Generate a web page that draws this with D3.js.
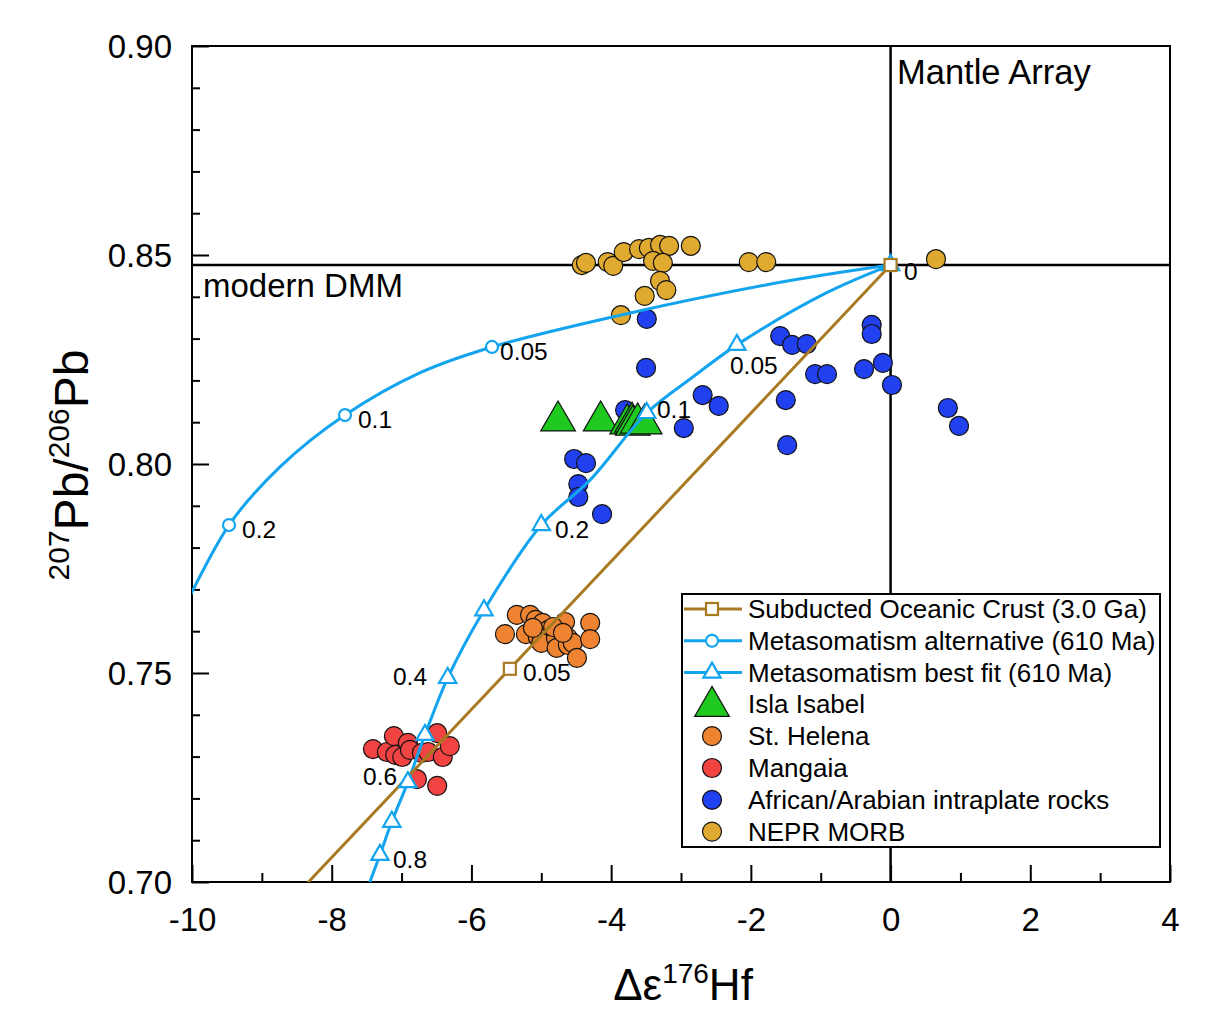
<!DOCTYPE html>
<html><head><meta charset="utf-8">
<script src="https://cdn.jsdelivr.net/npm/d3@7/dist/d3.min.js"></script>
<style>body{margin:0;background:#fff}svg{display:block;font-family:"Liberation Sans",Arial,sans-serif}</style>
</head><body><svg id="c" width="1212" height="1009"></svg>
<script>
// ---------- data ----------
const xTicksMajor = [-10,-8,-6,-4,-2,0,2,4];
const xTickLabels = ["-10","-8","-6","-4","-2","0","2","4"];
const xTicksMinor = [-9,-7,-5,-3,-1,1,3];
const yTicksMajor = [0.70,0.75,0.80,0.85,0.90];
const yTickLabels = ["0.70","0.75","0.80","0.85","0.90"];
const dmmY = 0.8476;

// Subducted oceanic crust (3.0 Ga): [x, y]
const crustLine = [[0,0.8476],[-5.45,0.751],[-8.7,0.6935]];
const crustMarks = [[0,0.8476],[-5.45,0.751]];
// Metasomatism alternative (610 Ma)
const altLine = [[0,0.8476],[-1.5,0.8437],[-3.87,0.8356],[-5.706,0.828],[-6.74,0.8218],[-7.81,0.8117],[-8.74,0.7993],[-9.47,0.7854],[-10.2,0.7625]];
const altMarks = [[0,0.8476],[-5.706,0.828],[-7.81,0.8117],[-9.47,0.7854]];
// Metasomatism best fit (610 Ma)
const bestLine = [[0,0.8476],[-0.90,0.8411],[-2.20,0.8285],[-2.83,0.8208],[-3.49,0.8122],[-4.30,0.7962],[-5.0,0.7854],[-5.82,0.765],[-6.34,0.7488],[-6.665,0.7352],[-6.91,0.7239],[-7.14,0.7144],[-7.31,0.7065],[-7.52,0.697]];
const bestMarks = [[0,0.8476],[-2.20,0.8285],[-3.49,0.8122],[-5.0,0.7854],[-5.82,0.765],[-6.34,0.7488],[-6.665,0.7352],[-6.91,0.7239],[-7.14,0.7144],[-7.31,0.7065]];

const curveLabels = [
  ["0.05",-5.591,0.8249],["0.1",-7.624,0.8086],["0.2",-9.284,0.7823],
  ["0.05",-2.299,0.8215],["0.1",-3.344,0.8110],["0.2",-4.804,0.7823],
  ["0.4",-7.123,0.7471],["0.6",-7.552,0.7232],["0.8",-7.123,0.7033],
  ["0.05",-5.262,0.7481],["0",0.192,0.8440]
];

const islaIsabel = [[-4.76,0.8103],[-4.15,0.8103],[-3.77,0.8096],[-3.70,0.8100],[-3.69,0.8093],[-3.62,0.8098],[-3.52,0.8096]];
const stHelena = [[-5.52,0.7593],[-5.35,0.7639],[-5.22,0.7593],[-5.16,0.7639],[-5.08,0.7627],[-5.05,0.7610],[-4.98,0.7620],[-4.90,0.7603],[-5.05,0.7586],[-5.00,0.7572],[-4.79,0.7584],[-4.78,0.7560],[-4.66,0.7622],[-4.62,0.7584],[-4.62,0.7567],[-4.55,0.7572],[-4.49,0.7536],[-4.30,0.7620],[-4.30,0.7581],[-4.83,0.7610],[-5.12,0.7608],[-4.69,0.7596]];
const mangaia = [[-7.41,0.7318],[-7.21,0.7311],[-7.11,0.7349],[-7.09,0.7304],[-6.99,0.7299],[-6.91,0.7333],[-6.88,0.7316],[-6.78,0.7246],[-6.71,0.7309],[-6.62,0.7311],[-6.49,0.7356],[-6.41,0.7299],[-6.31,0.7325],[-6.49,0.7230]];
const african = [[-3.49,0.8347],[-3.50,0.8230],[-2.69,0.8165],[-2.46,0.8139],[-2.96,0.8086],[-1.58,0.8306],[-1.41,0.8285],[-1.20,0.8287],[-1.08,0.8215],[-0.91,0.8215],[-1.50,0.8153],[-1.48,0.8045],[-0.27,0.8333],[-0.27,0.8311],[-0.38,0.8227],[-0.11,0.8242],[0.02,0.8189],[0.82,0.8134],[0.98,0.8091],[-3.80,0.8129],[-4.53,0.8012],[-4.36,0.8002],[-4.47,0.7952],[-4.47,0.7921],[-4.13,0.7880]];
const nepr = [[-4.42,0.8476],[-4.36,0.8481],[-4.05,0.8483],[-3.97,0.8474],[-3.82,0.8507],[-3.60,0.8514],[-3.46,0.8517],[-3.30,0.8524],[-3.17,0.8522],[-2.86,0.8522],[-3.40,0.8486],[-3.26,0.8481],[-3.30,0.8438],[-3.21,0.8416],[-3.52,0.8402],[-3.86,0.8356],[-2.03,0.8483],[-1.78,0.8483],[0.65,0.8490]];

const legendItems = ["Subducted Oceanic Crust (3.0 Ga)","Metasomatism alternative (610 Ma)","Metasomatism best fit (610 Ma)","Isla Isabel","St. Helena","Mangaia","African/Arabian intraplate rocks","NEPR MORB"];

// ---------- styles ----------
const C = {brown:"#a87b22", cyan:"#12a4ee", green:"#1fc91f", orange:"#ee8431", red:"#f24343", blue:"#2140f0", gold:"#e0a92f"};
const L = 192, R = 1170, T = 46, B = 882;

const svg = d3.select("#c");
const x = d3.scaleLinear().domain([-10,4]).range([L,R]);
const y = d3.scaleLinear().domain([0.70,0.90]).range([B,T]);

svg.append("defs").append("clipPath").attr("id","clip")
  .append("rect").attr("x",L).attr("y",T).attr("width",R-L).attr("height",B-T);

// reference lines
svg.append("line").attr("x1",L).attr("x2",R).attr("y1",y(dmmY)).attr("y2",y(dmmY)).attr("stroke","#000").attr("stroke-width",2.5);
svg.append("line").attr("x1",x(0)).attr("x2",x(0)).attr("y1",T).attr("y2",B).attr("stroke","#000").attr("stroke-width",2.5);

// axes
function styleAxis(g){ g.select(".domain").remove(); g.selectAll("line").attr("stroke","#000").attr("stroke-width",2); g.selectAll("text").attr("fill","#000").attr("font-size",33).attr("font-family","Liberation Sans, Arial, sans-serif"); }
svg.append("g").attr("transform",`translate(0,${B})`).call(d3.axisBottom(x).tickValues(xTicksMajor).tickSize(-17).tickPadding(26).tickFormat((d,i)=>xTickLabels[i])).call(styleAxis);
svg.append("g").attr("transform",`translate(0,${B})`).call(d3.axisBottom(x).tickValues(xTicksMinor).tickSize(-9).tickFormat("")).call(styleAxis);
svg.append("g").attr("transform",`translate(${L},0)`).call(d3.axisLeft(y).tickValues(yTicksMajor).tickSize(-17).tickPadding(20).tickFormat((d,i)=>yTickLabels[i])).call(styleAxis)
  .selectAll("text").attr("dy","0.35em");
const yMinor = d3.range(0.71,0.90,0.01).filter(v=>Math.abs(v*20-Math.round(v*20))>0.01);
svg.append("g").attr("transform",`translate(${L},0)`).call(d3.axisLeft(y).tickValues(yMinor).tickSize(-8).tickFormat("")).call(styleAxis);

// frame
svg.append("rect").attr("x",L).attr("y",T).attr("width",R-L).attr("height",B-T).attr("fill","none").attr("stroke","#000").attr("stroke-width",2);

// text annotations
svg.append("text").attr("x",203).attr("y",y(dmmY)+32).attr("font-size",33).text("modern DMM");
svg.append("text").attr("x",897).attr("y",84).attr("font-size",34.5).text("Mantle Array");

const plot = svg.append("g").attr("clip-path","url(#clip)");

// data points
function dots(data,color){
  plot.append("g").selectAll("circle").data(data).join("circle")
    .attr("cx",d=>x(d[0])).attr("cy",d=>y(d[1])).attr("r",9.5)
    .attr("fill",color).attr("stroke","#111").attr("stroke-width",1.2);
}
dots(nepr,C.gold);
dots(african,C.blue);
dots(stHelena,C.orange);
dots(mangaia,C.red);
const triBig = d3.symbol().type(d3.symbolTriangle).size(520);
plot.append("g").selectAll("path").data(islaIsabel).join("path")
  .attr("d",triBig).attr("transform",d=>`translate(${x(d[0])},${y(d[1])})`)
  .attr("fill",C.green).attr("stroke","#111").attr("stroke-width",1.2);

// curves
const line = d3.line().x(d=>x(d[0])).y(d=>y(d[1])).curve(d3.curveCatmullRom);
plot.append("path").datum(altLine).attr("d",line).attr("fill","none").attr("stroke",C.cyan).attr("stroke-width",3);
plot.append("path").datum(bestLine).attr("d",line).attr("fill","none").attr("stroke",C.cyan).attr("stroke-width",3);
plot.append("path").datum(crustLine).attr("d",d3.line().x(d=>x(d[0])).y(d=>y(d[1]))).attr("fill","none").attr("stroke",C.brown).attr("stroke-width",3);

plot.append("g").selectAll("circle").data(altMarks).join("circle")
  .attr("cx",d=>x(d[0])).attr("cy",d=>y(d[1])).attr("r",6)
  .attr("fill","#fff").attr("stroke",C.cyan).attr("stroke-width",2.2);
const triSm = d3.symbol().type(d3.symbolTriangle).size(130);
plot.append("g").selectAll("path").data(bestMarks).join("path")
  .attr("d",triSm).attr("transform",d=>`translate(${x(d[0])},${y(d[1])})`)
  .attr("fill","#fff").attr("stroke",C.cyan).attr("stroke-width",2.2);
plot.append("g").selectAll("rect").data(crustMarks).join("rect")
  .attr("x",d=>x(d[0])-6).attr("y",d=>y(d[1])-6).attr("width",12).attr("height",12)
  .attr("fill","#fff").attr("stroke",C.brown).attr("stroke-width",2.2);

svg.append("g").selectAll("text").data(curveLabels).join("text")
  .attr("x",d=>x(d[1])).attr("y",d=>y(d[2])).attr("font-size",24.5).text(d=>d[0]);

// legend
const lg = svg.append("g");
lg.append("rect").attr("x",682).attr("y",594).attr("width",478).attr("height",253).attr("fill","#fff").attr("stroke","#000").attr("stroke-width",2);
legendItems.forEach((t,i)=>{
  const cy = 609 + i*31.8;
  const g = lg.append("g");
  if(i<3){
    g.append("line").attr("x1",684).attr("x2",742).attr("y1",cy).attr("y2",cy).attr("stroke",i===0?C.brown:C.cyan).attr("stroke-width",3);
    if(i===0) g.append("rect").attr("x",706).attr("y",cy-6).attr("width",12).attr("height",12).attr("fill","#fff").attr("stroke",C.brown).attr("stroke-width",2.2);
    if(i===1) g.append("circle").attr("cx",712).attr("cy",cy).attr("r",6).attr("fill","#fff").attr("stroke",C.cyan).attr("stroke-width",2.2);
    if(i===2) g.append("path").attr("d",triSm).attr("transform",`translate(712,${cy})`).attr("fill","#fff").attr("stroke",C.cyan).attr("stroke-width",2.2);
  } else if(i===3){
    g.append("path").attr("d",triBig).attr("transform",`translate(712,${cy+2})`).attr("fill",C.green).attr("stroke","#111").attr("stroke-width",1.2);
  } else {
    const col=[C.orange,C.red,C.blue,C.gold][i-4];
    g.append("circle").attr("cx",712).attr("cy",cy).attr("r",9.5).attr("fill",col).attr("stroke","#111").attr("stroke-width",1.2);
  }
  g.append("text").attr("x",748).attr("y",cy+9).attr("font-size",26).text(t);
});

// axis titles
const xt = svg.append("text").attr("x",683).attr("y",1000).attr("text-anchor","middle").attr("font-size",44);
xt.append("tspan").text("Δε");
xt.append("tspan").attr("font-size",28).attr("dy",-17).text("176");
xt.append("tspan").attr("dy",17).text("Hf");

const yt = svg.append("text").attr("transform","translate(88,465) rotate(-90)").attr("text-anchor","middle").attr("font-size",48);
yt.append("tspan").attr("font-size",30).attr("dy",-19).text("207");
yt.append("tspan").attr("dy",19).text("Pb/");
yt.append("tspan").attr("font-size",30).attr("dy",-19).text("206");
yt.append("tspan").attr("dy",19).text("Pb");
</script></body></html>
